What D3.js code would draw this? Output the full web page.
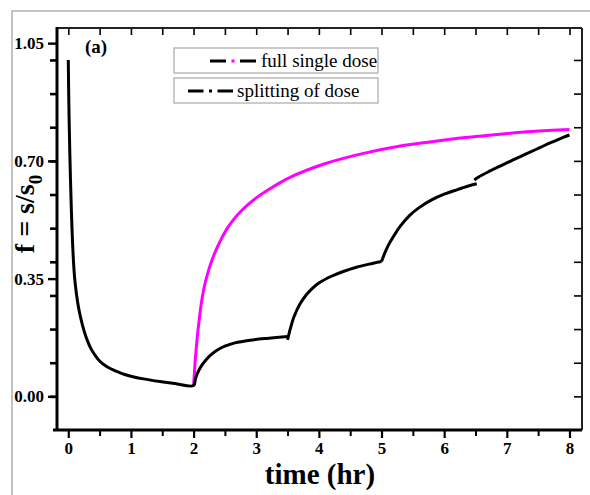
<!DOCTYPE html>
<html>
<head>
<meta charset="utf-8">
<script src="https://cdn.jsdelivr.net/npm/d3@7"></script>
<style>
  html, body { margin: 0; padding: 0; background: #fff; }
  svg { display: block; }
  text { font-family: "Liberation Serif", "Times New Roman", serif; }
</style>
</head>
<body>
<svg id="chart" width="590" height="495"></svg>
<script>
// Fraction of surviving signal f = s/s0 over time, for a single full dose
// versus the same dose split into portions given at 2, 3.5, 5 and 6.5 hr.

// full single dose (given at t = 2 hr): [time (hr), f]
const fullSingleDose = [
  [2.0, 0.032], [2.015, 0.075], [2.03, 0.115], [2.06, 0.178], [2.09, 0.228],
  [2.12, 0.272], [2.17, 0.325], [2.22, 0.362], [2.29, 0.403], [2.37, 0.44],
  [2.46, 0.474], [2.55, 0.503], [2.68, 0.535], [2.82, 0.562], [3.0, 0.59],
  [3.2, 0.615], [3.54, 0.651], [4.07, 0.69], [4.66, 0.72], [5.3, 0.744],
  [5.8, 0.757], [6.3, 0.769], [6.8, 0.778], [7.4, 0.787], [8.0, 0.793]
];

// splitting of dose, piece by piece between successive doses
const splitBeforeDose2 = [
  [0.0, 1.0], [0.01, 0.86], [0.025, 0.72], [0.05, 0.55], [0.075, 0.43],
  [0.1, 0.355], [0.13, 0.305], [0.16, 0.268], [0.2, 0.232], [0.25, 0.196],
  [0.3, 0.168], [0.37, 0.139], [0.44, 0.119], [0.5, 0.105], [0.6, 0.09],
  [0.7, 0.08], [0.8, 0.072], [0.9, 0.065], [1.0, 0.06], [1.2, 0.052],
  [1.46, 0.044], [1.7, 0.038], [2.0, 0.032],
  [2.03, 0.052], [2.07, 0.072], [2.13, 0.092], [2.2, 0.109], [2.28, 0.124],
  [2.38, 0.138], [2.5, 0.149], [2.66, 0.159], [2.9, 0.167], [3.2, 0.173],
  [3.5, 0.178]
];
const splitBeforeDose3 = [
  [3.5, 0.168], [3.55, 0.205], [3.6, 0.235], [3.7, 0.275], [3.8, 0.302],
  [3.9, 0.322], [4.0, 0.337], [4.2, 0.357], [4.4, 0.372], [4.6, 0.384],
  [4.8, 0.393], [5.0, 0.401]
];
const splitBeforeDose4 = [
  [5.0, 0.401], [5.05, 0.425], [5.1, 0.446], [5.2, 0.478], [5.3, 0.506],
  [5.45, 0.538], [5.6, 0.561], [5.8, 0.584], [6.0, 0.601], [6.2, 0.614],
  [6.4, 0.626], [6.52, 0.632]
];
const splitAfterDose4 = [
  [6.48, 0.643], [6.55, 0.652], [6.7, 0.667], [6.9, 0.685], [7.1, 0.703],
  [7.3, 0.72], [7.5, 0.737], [7.7, 0.754], [7.9, 0.77], [8.0, 0.777]
];

// axis ticks
const xTicks = [0, 1, 2, 3, 4, 5, 6, 7, 8];
const xMinorTicks = [0.5, 1.5, 2.5, 3.5, 4.5, 5.5, 6.5, 7.5];
const yTicks = [0.00, 0.35, 0.70, 1.05];
const yMinorTicks = [0.0, 0.1, 0.2, 0.3, 0.4, 0.5, 0.6, 0.7, 0.8, 0.9, 1.0];

const legendLabels = ["full single dose", "splitting of dose"];

const svg = d3.select("#chart");

// light frame around the figure
svg.append("path")
  .attr("d", "M12,495 L12,11 L590,11")
  .attr("fill", "none").attr("stroke", "#b0b0b0").attr("stroke-width", 1.5);

const plot = { left: 57, right: 582, top: 28, bottom: 430 };

const x = d3.scaleLinear().domain([-0.18, 8.2]).range([plot.left, plot.right]);
const y = d3.scaleLinear().domain([-0.1, 1.095]).range([plot.bottom, plot.top]);

// ---- axes ----
function styleAxis(g, width) {
  g.selectAll(".domain").remove();
  g.selectAll(".tick line").attr("stroke", "#000").attr("stroke-width", width);
}
function styleLabels(g) {
  g.selectAll("text")
    .attr("font-size", 17).attr("font-weight", "bold").attr("fill", "#000")
    .attr("font-family", "Liberation Serif");
}

// bottom axis: integer labels, half-hour minor ticks
svg.append("g").attr("transform", `translate(0,${plot.bottom})`)
  .call(d3.axisBottom(x).tickValues(xMinorTicks).tickSize(6).tickFormat(""))
  .call(g => styleAxis(g, 2));
svg.append("g").attr("transform", `translate(0,${plot.bottom})`)
  .call(d3.axisBottom(x).tickValues(xTicks).tickSize(8).tickPadding(4).tickFormat(d3.format("d")))
  .call(g => styleAxis(g, 2.2))
  .call(styleLabels);

// top axis: inward ticks every half hour
svg.append("g").attr("transform", `translate(0,${plot.top})`)
  .call(d3.axisBottom(x).tickValues(xTicks.concat(xMinorTicks)).tickSize(7).tickFormat(""))
  .call(g => styleAxis(g, 1.6));

// left axis: labelled ticks every 0.35 plus minor ticks every 0.1
svg.append("g").attr("transform", `translate(${plot.left},0)`)
  .call(d3.axisLeft(y).tickValues(yMinorTicks).tickSize(7).tickFormat(""))
  .call(g => styleAxis(g, 2.6));
svg.append("g").attr("transform", `translate(${plot.left},0)`)
  .call(d3.axisLeft(y).tickValues(yTicks).tickSize(9).tickPadding(4).tickFormat(d3.format(".2f")))
  .call(g => styleAxis(g, 2.4))
  .call(styleLabels);

// right axis: inward ticks every 0.1
svg.append("g").attr("transform", `translate(${plot.right},0)`)
  .call(d3.axisRight(y).tickValues(yMinorTicks).tickSize(-8).tickFormat(""))
  .call(g => styleAxis(g, 1.6));

// axis frame lines
svg.append("line").attr("x1", plot.left).attr("x2", plot.right)
  .attr("y1", plot.top).attr("y2", plot.top)
  .attr("stroke", "#222").attr("stroke-width", 2);
svg.append("line").attr("x1", plot.right).attr("x2", plot.right)
  .attr("y1", plot.top).attr("y2", plot.bottom)
  .attr("stroke", "#222").attr("stroke-width", 2);
svg.append("line").attr("x1", plot.left).attr("x2", plot.left)
  .attr("y1", plot.top - 1).attr("y2", plot.bottom + 1)
  .attr("stroke", "#000").attr("stroke-width", 3);
svg.append("line").attr("x1", plot.left - 4).attr("x2", plot.right)
  .attr("y1", plot.bottom).attr("y2", plot.bottom)
  .attr("stroke", "#000").attr("stroke-width", 3.2);

// ---- curves ----
const line = d3.line()
  .x(d => x(d[0]))
  .y(d => y(d[1]))
  .curve(d3.curveCatmullRom.alpha(0.5));

svg.append("path").datum(fullSingleDose)
  .attr("d", line).attr("fill", "none")
  .attr("stroke", "#ff00ff").attr("stroke-width", 3);

[splitBeforeDose2, splitBeforeDose3, splitBeforeDose4, splitAfterDose4].forEach(seg => {
  svg.append("path").datum(seg)
    .attr("d", line).attr("fill", "none")
    .attr("stroke", "#000").attr("stroke-width", 3)
    .attr("stroke-linejoin", "round");
});

// ---- panel tag ----
svg.append("text").attr("x", 85).attr("y", 53)
  .attr("font-size", 19).attr("font-weight", "bold").text("(a)");

// ---- legend ----
const legend = svg.append("g");
const boxes = [
  { y: 48, h: 25, lineX: [210, 256], textX: 261, color: "#ff00ff" },
  { y: 78, h: 25, lineX: [188, 233], textX: 237, color: "#000" }
];
boxes.forEach((b, i) => {
  legend.append("rect").attr("x", 174).attr("y", b.y).attr("width", 204).attr("height", b.h)
    .attr("fill", "#fff").attr("stroke", "#a8a8a8").attr("stroke-width", 1.2);
  const cy = b.y + b.h / 2 + 0.5;
  const [a, c] = b.lineX;
  const mid = (a + c) / 2;
  legend.append("line").attr("x1", a).attr("x2", mid - 7).attr("y1", cy).attr("y2", cy)
    .attr("stroke", "#000").attr("stroke-width", 3);
  legend.append("line").attr("x1", mid + 7).attr("x2", c).attr("y1", cy).attr("y2", cy)
    .attr("stroke", "#000").attr("stroke-width", 3);
  legend.append("rect").attr("x", mid - 1.5).attr("y", cy - 1.5).attr("width", 3).attr("height", 3)
    .attr("fill", b.color);
  legend.append("text").attr("x", b.textX).attr("y", cy + 6)
    .attr("font-size", 19).attr("fill", "#000").text(legendLabels[i]);
});

// ---- axis titles ----
svg.append("text").attr("x", 320).attr("y", 484).attr("text-anchor", "middle")
  .attr("font-size", 29).attr("font-weight", "bold").text("time (hr)");

const yTitle = svg.append("text")
  .attr("transform", "translate(34,214) rotate(-90)")
  .attr("text-anchor", "middle")
  .attr("font-size", 28).attr("font-weight", "bold");
yTitle.append("tspan").text("f = s/s");
yTitle.append("tspan").attr("dy", 8).attr("font-size", 19).text("0");
</script>
</body>
</html>
